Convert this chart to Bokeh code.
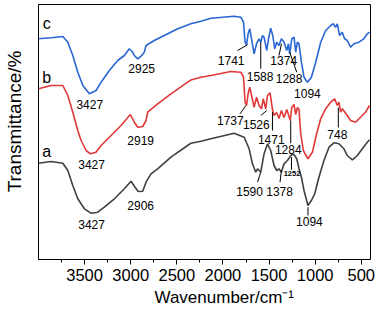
from bokeh.plotting import figure
from bokeh.models import Range1d, FixedTicker, Title
from bokeh.embed import file_html
from bokeh.resources import INLINE
from bokeh.core.properties import value

# ---- data: wavenumber (cm^-1) and transmittance (arbitrary, offset) ----
wn_c = [4000, 3863, 3736, 3682, 3628, 3574, 3519, 3448, 3376, 3321, 3232, 3141, 3069, 3015, 2978, 2961,
        2924, 2888, 2853, 2834, 2745, 2636, 2491, 2347, 2239, 2131, 1879, 1806, 1777, 1760, 1744, 1727,
        1709, 1690, 1662, 1636, 1608, 1590, 1571, 1554, 1525, 1506, 1482, 1460, 1438, 1417, 1392, 1366,
        1338, 1308, 1290, 1276, 1254, 1229, 1211, 1193, 1175, 1149, 1121, 1084, 1041, 994, 940, 886,
        832, 803, 778, 760, 735, 706, 681, 652, 616, 580, 526, 472, 435, 410]
t_c = [220.7, 221.7, 223, 217.3, 204, 187.3, 174, 165.7, 169, 177.3, 189, 199, 204, 210.7, 207.3, 204,
       200.7, 203.3, 207.3, 214, 219, 224, 230.7, 235.7, 238.3, 241.3, 243.3, 242.3, 237.3, 217.3, 214.7, 225.7,
       230.7, 220.7, 205.7, 215.7, 220.7, 217.3, 224, 222.3, 209, 220.7, 231.3, 224, 210.7, 217.3, 214, 220.7,
       217.3, 209, 215.7, 205.7, 220.7, 222.3, 207.3, 217.3, 215.7, 197.3, 182.3, 177.3, 182.3, 197.3, 217.3, 229,
       234, 235.7, 232.3, 235.7, 224, 227.3, 220.7, 219, 212.3, 215.7, 217.3, 220.7, 225.7, 227.3]

wn_b = [4000, 3863, 3736, 3682, 3628, 3574, 3538, 3484, 3437, 3376, 3321, 3213, 3105, 3004, 2961, 2924,
        2870, 2834, 2816, 2708, 2564, 2383, 2347, 2239, 2131, 1914, 1806, 1777, 1760, 1744, 1727, 1709,
        1690, 1662, 1636, 1608, 1582, 1563, 1536, 1517, 1489, 1463, 1446, 1417, 1392, 1366, 1338, 1308,
        1290, 1270, 1254, 1229, 1211, 1193, 1175, 1157, 1128, 1078, 1030, 984, 940, 905, 886, 832,
        789, 760, 742, 724, 706, 652, 616, 562, 508, 454, 410]
t_b = [170.7, 174, 174, 164, 147.3, 129, 119, 109, 105.7, 107.3, 114, 124, 134, 145, 137.3, 132.3,
       133, 139, 147.3, 155.7, 165.7, 177.3, 179.5, 182.3, 184, 188, 187.3, 182.3, 157.3, 154, 165.7, 172.3,
       164, 152.3, 162.3, 154, 150.7, 160.7, 150.7, 164, 166.7, 150, 144, 147, 141, 149, 142, 150,
       145, 139, 152, 155, 145, 152, 150, 126, 109, 100.7, 107.3, 125.7, 140.7, 147.3, 150.7, 157.3,
       160.7, 154, 157.3, 147.3, 150.7, 144, 139, 137.3, 142.3, 147.3, 154]

wn_a = [4000, 3863, 3736, 3682, 3628, 3574, 3502, 3430, 3357, 3286, 3177, 3069, 2997, 2953, 2918, 2870,
        2834, 2780, 2708, 2564, 2383, 2347, 2239, 2131, 1879, 1770, 1716, 1680, 1644, 1625, 1590, 1554,
        1517, 1482, 1446, 1417, 1392, 1366, 1338, 1301, 1276, 1247, 1222, 1200, 1175, 1149, 1121, 1078,
        1041, 1005, 959, 905, 850, 796, 742, 688, 652, 597, 543, 489, 435, 410]
t_a = [96.3, 98, 96.3, 89, 74, 60.7, 50.7, 46.3, 47.3, 52.3, 60.7, 70.7, 78.3, 72.3, 68, 68.3,
       77.3, 85.7, 90.7, 102.3, 114, 116.3, 118.3, 120.7, 126.3, 122.3, 110.7, 95.7, 87.3, 90.7, 87.3, 105.7,
       115.7, 109, 94, 89, 90.7, 87.3, 95.7, 99, 102.3, 105.7, 104, 100.7, 90.7, 82.3, 69, 54,
       59, 65.7, 82.3, 99, 112.3, 116.7, 115.7, 110.7, 104, 99.7, 104, 110.7, 117.3, 119.7]

series_names = ["a", "b", "c"]
x_ticks = [500, 1000, 1500, 2000, 2500, 3000, 3500]
x_minor = [750, 1250, 1750, 2250, 2750, 3250, 3750]

# peak labels (text) and their placement
peak_text = ["2925", "3427", "1741", "1588", "1374", "1288", "1094",
             "3427", "2919", "1737", "1526", "1471", "1284", "748",
             "3427", "2906", "1590", "1378", "1094"]
peak_x = [2881, 3444, 1911, 1597, 1341, 1283, 1084,
          3424, 2892, 1920, 1638, 1476, 1292, 760,
          3424, 2892, 1711, 1386, 1062]
peak_y = [191, 155, 199.5, 182.7, 199, 181.5, 166.5,
          95, 119.5, 139.5, 135, 120, 110, 125,
          35, 54, 67.7, 67.7, 37.7]
small_text = ["1252"]
small_x = [1251]
small_y = [86.5]

# leader lines
lead_x0 = [1842, 1590, 1392, 1200, 1814, 1590, 1463, 1265, 749, 1625, 1381, 1257, 1078]
lead_y0 = [209, 190.7, 204, 187.3, 145.7, 144, 129, 116.3, 132, 77.3, 77.3, 89.7, 44]
lead_x1 = [1734, 1590, 1366, 1276, 1752, 1525, 1463, 1265, 749, 1590, 1366, 1257, 1078]
lead_y1 = [214.7, 217.3, 215.7, 207.3, 154, 149, 147.3, 139, 152, 87.3, 89, 102.3, 52.3]

name_x = [3911, 3911, 3911]
name_y = [108, 182, 236.5]

FONT = "Liberation Sans"

p = figure(width=383, height=310, x_range=Range1d(4000, 400), y_range=Range1d(0, 255),
           output_backend="svg", toolbar_location=None,
           min_border_left=37, min_border_right=13, min_border_top=4, min_border_bottom=51)
p.background_fill_color = "white"
p.border_fill_color = "white"
p.xgrid.visible = False
p.ygrid.visible = False
p.outline_line_color = "black"
p.outline_line_width = 1

p.line(wn_a, t_a, line_color="#404040", line_width=1.6)
p.line(wn_b, t_b, line_color="#e03838", line_width=1.6)
p.line(wn_c, t_c, line_color="#2a66d4", line_width=1.6)

p.segment(x0=lead_x0, y0=lead_y0, x1=lead_x1, y1=lead_y1, line_color="black", line_width=1)

p.text(x=peak_x, y=peak_y, text=peak_text, text_font=value(FONT), text_font_size="12px",
       text_align="center", text_baseline="middle", text_color="black")
p.text(x=small_x, y=small_y, text=small_text, text_font=value(FONT), text_font_size="7.5px",
       text_font_style="bold", text_align="center", text_baseline="middle", text_color="black")
p.text(x=name_x, y=name_y, text=series_names, text_font=value(FONT), text_font_size="16px",
       text_align="center", text_baseline="middle", text_color="black")

xa = p.xaxis[0]
xa.ticker = FixedTicker(ticks=x_ticks, minor_ticks=x_minor)
xa.major_tick_in = 0
xa.major_tick_out = 5
xa.minor_tick_in = 0
xa.minor_tick_out = 3
xa.major_label_standoff = 4
xa.major_label_text_font = FONT
xa.major_label_text_font_size = "16.5px"
xa.major_label_text_color = "black"
xa.axis_line_color = "black"

ya = p.yaxis[0]
ya.ticker = FixedTicker(ticks=[])
ya.major_tick_line_color = None
ya.minor_tick_line_color = None
ya.major_tick_out = 0
ya.major_label_standoff = 0
ya.major_label_text_font_size = "0px"
# leading no-break spaces nudge the centred label upward, as in the reference
ya.axis_label = "\u00a0\u00a0\u00a0\u00a0Transmittance/%"
ya.axis_label_text_font = FONT
ya.axis_label_text_font_size = "19px"
ya.axis_label_text_font_style = "normal"
ya.axis_label_text_color = "black"
ya.axis_label_standoff = 14

p.add_layout(Title(text="Wavenumber/cm\u207b\u00b9", align="left", offset=116,
                   text_font=FONT, text_font_size="17px", text_font_style="normal",
                   text_color="black", standoff=4), "below")

open("out.html", "w").write(file_html(p, INLINE))
